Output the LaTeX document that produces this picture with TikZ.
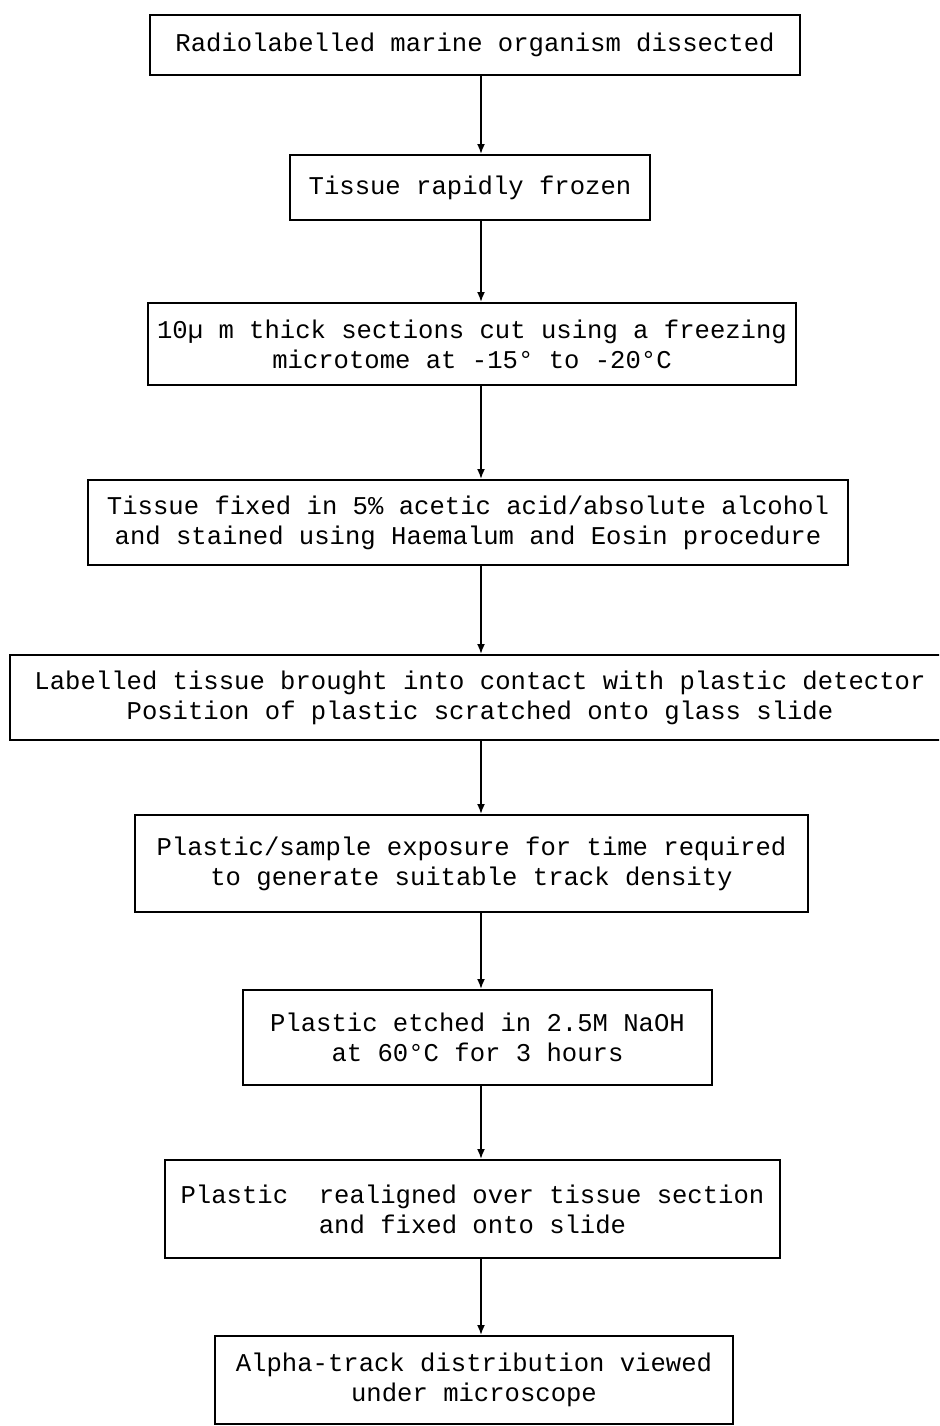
\documentclass[tikz,border=0pt]{standalone}
\usepackage{fontspec}
\setmonofont{Liberation Mono}
\usetikzlibrary{arrows.meta}
\begin{document}
\begin{tikzpicture}[x=0.5pt,y=-0.5pt,
  stepbox/.style={draw, line width=1pt, rectangle, inner sep=0pt, align=center,
    font=\ttfamily\fontsize{12.8}{15}\selectfont},
  flow/.style={-{Latex[length=5pt,width=4pt]}, line width=0.9pt}]
\useasboundingbox (0,0) rectangle (939,1426);
\clip (0,0) rectangle (939,1426);
\coordinate (ax) at (481,0);
\node[stepbox, minimum width=325pt, minimum height=30pt] (n1) at (475,45)
  {Radiolabelled marine organism dissected};
\node[stepbox, minimum width=180pt, minimum height=32.5pt] (n2) at (470,187.5)
  {Tissue rapidly frozen};
\node[stepbox, minimum width=324pt, minimum height=41pt] (n3) at (472,344)
  {10µ m thick sections cut using a freezing\\microtome at -15° to -20°C};
\node[stepbox, minimum width=380pt, minimum height=42.5pt] (n4) at (468,522.5)
  {Tissue fixed in 5\% acetic acid/absolute alcohol\\and stained using Haemalum and Eosin procedure};
\node[stepbox, minimum width=470pt, minimum height=42.5pt] (n5) at (480,697.5)
  {Labelled tissue brought into contact with plastic detector\\Position of plastic scratched onto glass slide};
\node[stepbox, minimum width=336.5pt, minimum height=48.5pt] (n6) at (471.5,863.5)
  {Plastic/sample exposure for time required\\to generate suitable track density};
\node[stepbox, minimum width=234.5pt, minimum height=47.5pt] (n7) at (477.5,1037.5)
  {Plastic etched in 2.5M NaOH\\at 60°C for 3 hours};
\node[stepbox, minimum width=307.5pt, minimum height=49pt] (n8) at (472.5,1209)
  {Plastic~ realigned over tissue section\\and fixed onto slide};
\node[stepbox, minimum width=259pt, minimum height=44pt] (n9) at (474,1380)
  {Alpha-track distribution viewed\\under microscope};
\draw[flow] (n1.south -| ax) -- (n2.north -| ax);
\draw[flow] (n2.south -| ax) -- (n3.north -| ax);
\draw[flow] (n3.south -| ax) -- (n4.north -| ax);
\draw[flow] (n4.south -| ax) -- (n5.north -| ax);
\draw[flow] (n5.south -| ax) -- (n6.north -| ax);
\draw[flow] (n6.south -| ax) -- (n7.north -| ax);
\draw[flow] (n7.south -| ax) -- (n8.north -| ax);
\draw[flow] (n8.south -| ax) -- (n9.north -| ax);
\end{tikzpicture}
\end{document}
